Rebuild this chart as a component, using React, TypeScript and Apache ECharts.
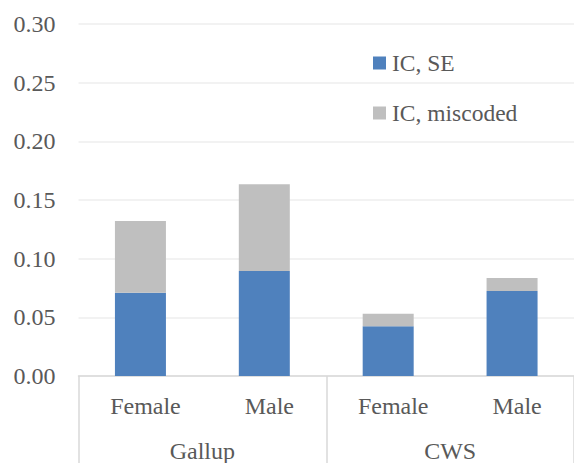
import React, { useEffect, useRef } from "react";
import * as echarts from "echarts";

const categories = ["Female", "Male", "Female", "Male"];
const groups = ["Gallup", "CWS"];
const icSE = [0.071, 0.0895, 0.0425, 0.0725];
const icMiscoded = [0.061, 0.074, 0.0105, 0.011];
const seriesNames = ["IC, SE", "IC, miscoded"];

const FONT = "'Liberation Serif', 'Times New Roman', serif";
const TXT = "#595959";

export default function App() {
  const ref = useRef<HTMLDivElement>(null);
  useEffect(() => {
    if (!ref.current) return;
    const chart = echarts.init(ref.current, undefined, { renderer: "svg" });
    chart.setOption({
      animation: false,
      textStyle: { fontFamily: FONT },
      legend: {
        orient: "vertical",
        left: 373,
        top: 51,
        padding: 0,
        itemWidth: 13,
        itemHeight: 13,
        itemGap: 26,
        icon: "rect",
        textStyle: { fontFamily: FONT, fontSize: 23.5, color: TXT, lineHeight: 24, padding: [0, 0, 0, 1] },
        data: seriesNames,
      },
      grid: { left: 78.5, right: -8.5, top: 24, bottom: 87, containLabel: false },
      xAxis: [
        {
          type: "category",
          data: categories,
          position: "bottom",
          axisLine: { show: true, lineStyle: { color: "#d9d9d9", width: 1.5 } },
          axisTick: { show: false },
          axisLabel: {
            margin: 18,
            fontSize: 24,
            color: TXT,
            fontFamily: FONT,
            padding: [0, 0, 0, 10],
          },
        },
        {
          type: "category",
          data: groups,
          position: "bottom",
          gridIndex: 0,
          axisLine: { show: false },
          axisTick: { show: true, length: 90, lineStyle: { color: "#d9d9d9", width: 1.5 } },
          axisLabel: { margin: 63, fontSize: 24, color: TXT, fontFamily: FONT },
        },
      ],
      yAxis: {
        type: "value",
        min: 0,
        max: 0.3,
        interval: 0.05,
        axisLine: { show: false },
        axisTick: { show: false },
        splitLine: { lineStyle: { color: "#eeeeee", width: 1.5 } },
        axisLabel: {
          margin: 23,
          fontSize: 24,
          color: TXT,
          fontFamily: FONT,
          formatter: (v: number) => v.toFixed(2),
        },
      },
      series: [
        {
          name: seriesNames[0],
          type: "bar",
          stack: "ic",
          data: icSE,
          barWidth: 51,
          itemStyle: { color: "#4f81bd" },
          xAxisIndex: 0,
        },
        {
          name: seriesNames[1],
          type: "bar",
          stack: "ic",
          data: icMiscoded,
          barWidth: 51,
          itemStyle: { color: "#bfbfbf" },
          xAxisIndex: 0,
        },
      ],
    });
    return () => chart.dispose();
  }, []);
  return (
    <div
      ref={ref}
      style={{ position: "fixed", left: 0, top: 0, width: 574, height: 463, background: "#fff" }}
    />
  );
}
